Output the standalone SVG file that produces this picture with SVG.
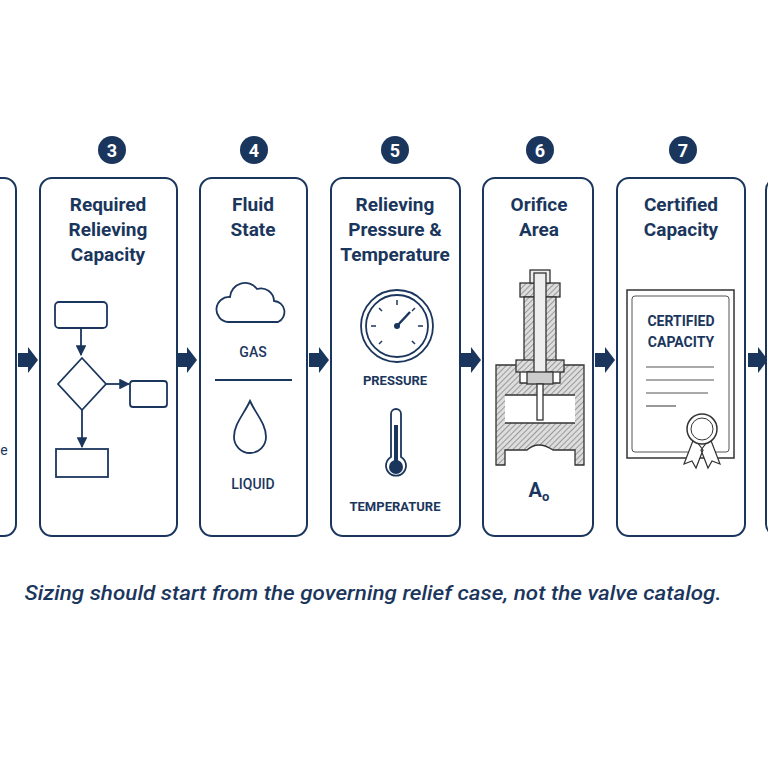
<svg xmlns="http://www.w3.org/2000/svg" width="768" height="768" viewBox="0 0 768 768">
<defs>
<style>
.p{fill:#fff;stroke:#1b365d;stroke-width:2}
.t{font-family:Roboto,"Liberation Sans",sans-serif;font-weight:bold;fill:#1b365d;text-anchor:middle}
.h{font-size:19px}
.s{font-size:14px;font-weight:500}
.n{font-size:18px;fill:#fff}
.l{fill:none;stroke:#1b365d;stroke-width:1.8}
.g{fill:none;stroke:#333;stroke-width:1.5}
</style>
<marker id="m" viewBox="0 0 10 10" refX="9" refY="5" markerWidth="6" markerHeight="6" orient="auto"><path d="M0 0L10 5L0 10z" fill="#1b365d"/></marker>
<pattern id="hatch" width="4" height="4" patternUnits="userSpaceOnUse" patternTransform="rotate(45)"><rect width="4" height="4" fill="#ddd"/><line x1="0" y1="0" x2="0" y2="4" stroke="#555" stroke-width="1"/></pattern>
<path id="arr" d="M0-7h10v-6l10 13l-10 13v-6h-10z" fill="#1b365d"/>
</defs>
<rect width="768" height="768" fill="#fff"/>
<g id="connectors">
<use href="#arr" x="18" y="360"/><use href="#arr" x="177" y="360"/><use href="#arr" x="309" y="360"/><use href="#arr" x="461" y="360"/><use href="#arr" x="595" y="360"/><use href="#arr" x="748" y="360"/>
</g>
<g id="node2"><rect class="p" x="-30" y="178" width="46" height="358" rx="12"/><text class="t s" x="4" y="455" style="font-weight:normal">e</text></g>
<g id="node3">
<circle cx="112" cy="150" r="14" fill="#1b365d"/><text class="t n" x="112" y="157">3</text>
<rect class="p" x="40" y="178" width="137" height="358" rx="12"/>
<text class="t h" x="108" y="211">Required</text><text class="t h" x="108" y="236">Relieving</text><text class="t h" x="108" y="261">Capacity</text>
<rect class="l" x="55" y="302" width="52" height="26" rx="4"/>
<line class="l" x1="81" y1="328" x2="81" y2="355" marker-end="url(#m)"/>
<path class="l" d="M82 358L106 384L82 410L58 384Z"/>
<line class="l" x1="106" y1="384" x2="129" y2="384" marker-end="url(#m)"/>
<rect class="l" x="130" y="381" width="37" height="26" rx="3"/>
<line class="l" x1="82" y1="410" x2="82" y2="447" marker-end="url(#m)"/>
<rect class="l" x="56" y="449" width="52" height="28"/>
</g>
<g id="node4">
<circle cx="254" cy="150" r="14" fill="#1b365d"/><text class="t n" x="254" y="157">4</text>
<rect class="p" x="200" y="178" width="107" height="358" rx="12"/>
<text class="t h" x="253" y="211">Fluid</text><text class="t h" x="253" y="236">State</text>
<path class="l" d="M228 322h50a11 11 0 0 0 -4 -21a13 13 0 0 0 -17 -12a15 15 0 0 0 -27 8a12 12 0 0 0 -2 25z"/>
<text class="t s" x="253" y="357">GAS</text>
<line class="l" x1="215" y1="380" x2="292" y2="380"/>
<path class="l" d="M250 401C244 414 234 424 234 437a16 16 0 0 0 32 0C266 424 256 414 250 401z"/>
<text class="t s" x="253" y="489">LIQUID</text>
</g>
<g id="node5">
<circle cx="395" cy="150" r="14" fill="#1b365d"/><text class="t n" x="395" y="157">5</text>
<rect class="p" x="331" y="178" width="129" height="358" rx="12"/>
<text class="t h" x="395" y="211">Relieving</text><text class="t h" x="395" y="236">Pressure &amp;</text><text class="t h" x="395" y="261">Temperature</text>
<circle cx="397" cy="326" r="36" class="l" stroke-width="2.5"/><circle cx="397" cy="326" r="31" class="l" stroke-width="1"/>
<g stroke="#1b365d" stroke-width="1.5">
<line x1="371" y1="326" x2="376" y2="326"/><line x1="418" y1="326" x2="423" y2="326"/><line x1="397" y1="300" x2="397" y2="305"/>
<line x1="379" y1="308" x2="382" y2="311"/><line x1="415" y1="308" x2="412" y2="311"/><line x1="379" y1="344" x2="382" y2="341"/><line x1="415" y1="344" x2="412" y2="341"/>
<line x1="397" y1="326" x2="410" y2="312" stroke-width="2.5"/></g>
<circle cx="397" cy="326" r="3" fill="#1b365d"/>
<text class="t" x="395" y="385" font-size="13" font-weight="500">PRESSURE</text>
<path class="l" d="M391 414a5 5 0 0 1 10 0v43a10 10 0 1 1 -10 0z"/>
<circle cx="396" cy="467" r="7" fill="#1b365d"/><rect x="394" y="425" width="4" height="40" fill="#1b365d"/>
<text class="t" x="395" y="511" font-size="13" font-weight="500">TEMPERATURE</text>
</g>
<g id="node6">
<circle cx="540" cy="150" r="14" fill="#1b365d"/><text class="t n" x="540" y="157">6</text>
<rect class="p" x="483" y="178" width="110" height="358" rx="12"/>
<text class="t h" x="539" y="211">Orifice</text><text class="t h" x="539" y="236">Area</text>
<g stroke="#333" stroke-width="1.3">
<path d="M496 365h24v18h40v-18h24v100h-9v-15h-22q-15-10-26 0h-22v15h-9z" fill="url(#hatch)"/>
<rect x="505" y="395" width="70" height="28" fill="#fff" stroke="none"/>
<line x1="505" y1="395" x2="575" y2="395"/><line x1="505" y1="423" x2="575" y2="423"/>
<rect x="520" y="283" width="40" height="14" fill="url(#hatch)"/>
<rect x="524" y="297" width="32" height="68" fill="url(#hatch)"/>
<rect x="516" y="360" width="48" height="12" fill="url(#hatch)"/>
<rect x="530" y="270" width="20" height="13" fill="#eee"/>
<rect x="534" y="273" width="12" height="100" fill="#eee"/>
<rect x="527" y="372" width="26" height="12" fill="#ccc"/>
<rect x="537" y="384" width="6" height="36" fill="#fff"/>
</g>
<text class="t" x="539" y="497" font-size="20" font-weight="500">A<tspan font-size="13" dy="4">o</tspan></text>
</g>
<g id="node7">
<circle cx="683" cy="150" r="14" fill="#1b365d"/><text class="t n" x="683" y="157">7</text>
<rect class="p" x="617" y="178" width="128" height="358" rx="12"/>
<text class="t h" x="681" y="211">Certified</text><text class="t h" x="681" y="236">Capacity</text>
<rect x="627" y="290" width="107" height="168" fill="none" stroke="#333" stroke-width="1.5"/>
<rect x="632" y="296" width="97" height="156" rx="3" fill="none" stroke="#555" stroke-width="1"/>
<text class="t" x="681" y="326" font-size="14" font-weight="500" fill="#333">CERTIFIED</text>
<text class="t" x="681" y="347" font-size="14" font-weight="500" fill="#333">CAPACITY</text>
<g stroke="#555" stroke-width="1.2"><line x1="646" y1="367" x2="714" y2="367"/><line x1="646" y1="380" x2="714" y2="380"/><line x1="646" y1="393" x2="708" y2="393"/><line x1="646" y1="406" x2="676" y2="406"/></g>
<path d="M694 438l-10 26l8-3l4 7l7-18zM710 438l10 26l-8-3l-4 7l-7-18z" fill="#fff" stroke="#333" stroke-width="1.2"/>
<circle cx="702" cy="429" r="15" fill="#fff" stroke="#333" stroke-width="1.5"/><circle cx="702" cy="429" r="11" fill="#fff" stroke="#333" stroke-width="1"/>
</g>
<g id="node8"><rect class="p" x="766" y="178" width="40" height="358" rx="12"/></g>
<text x="373" y="600" font-family="Roboto,'Liberation Sans',sans-serif" font-size="21" font-style="italic" font-weight="500" fill="#1b365d" text-anchor="middle" textLength="697" lengthAdjust="spacingAndGlyphs">Sizing should start from the governing relief case, not the valve catalog.</text>
</svg>
